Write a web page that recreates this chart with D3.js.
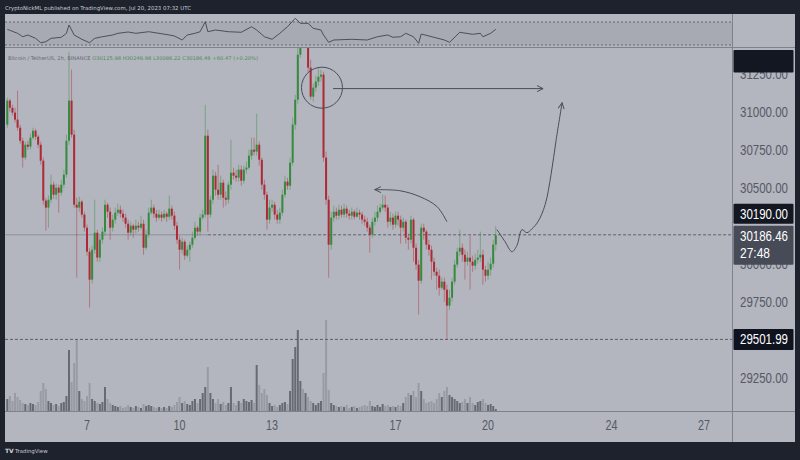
<!DOCTYPE html>
<html><head><meta charset="utf-8">
<script src="https://cdn.jsdelivr.net/npm/d3@7"></script>
<style>html,body{margin:0;padding:0;background:#1e222d;overflow:hidden}</style>
</head><body>
<svg id="c" width="800" height="460"></svg>
<script>
// ---------------- DATA ----------------
const firstOpen = 30915;
const closes = [
31073,31026,30994,30948,30895,30809,30698,30783,30770,30829,
30875,30836,30783,30678,30415,30369,30421,30520,30454,30500,
30467,30520,30586,30809,31073,30849,30388,30369,30408,30323,
30237,30079,29895,30092,30204,30040,30158,30211,30388,30342,
30237,30290,30336,30355,30329,30303,30263,30204,30250,30224,
30250,30237,30263,30105,30191,30336,30369,30329,30303,30323,
30303,30329,30309,30362,30316,30250,30158,30092,30145,30053,
30092,30125,30171,30237,30211,30303,30323,30842,30323,30421,
30579,30487,30454,30533,30434,30421,30520,30599,30579,30566,
30619,30546,30619,30632,30711,30750,30737,30783,30684,30520,
30454,30290,30369,30388,30323,30290,30336,30454,30540,30513,
30665,30915,31079,31375,31605,31474,31540,31290,31099,31158,
31198,31230,31244,30698,30421,30125,30303,30342,30316,30355,
30323,30362,30329,30316,30342,30309,30336,30323,30290,30276,
30237,30191,30276,30303,30342,30369,30388,30369,30276,30303,
30257,30316,30290,30237,30276,30171,30158,30290,30105,29994,
29888,30237,30211,30125,30092,30013,29947,29921,29842,29882,
29829,29724,29776,29882,29994,30079,30105,30059,30013,30040,
30013,29987,30026,30040,30059,29961,29921,29961,30000,30125.98,
30186.46];
const highs = [
31092,31086,31046,31026,31138,30915,30829,30803,30809,30855,
30895,30888,30849,30803,30698,30434,30448,30586,30540,30526,
30520,30553,30619,30849,31395,31277,30882,30434,30441,30421,
30342,30257,30105,30119,30421,30224,30184,30237,30421,30401,
30369,30323,30369,30395,30382,30355,30329,30290,30276,30263,
30290,30276,30316,30290,30224,30369,30421,30388,30355,30355,
30342,30355,30342,30448,30382,30342,30276,30184,30171,30158,
30119,30145,30211,30276,30250,30329,30355,31046,30882,30448,
30619,30605,30651,30579,30553,30474,30540,30816,30632,30619,
30651,30645,30645,30671,30750,30829,30829,30987,30803,30698,
30553,30474,30421,30421,30408,30355,30369,30487,30579,30566,
30698,30961,31112,31441,31704,31671,31592,31573,31342,31184,
31237,31290,31277,31263,30737,30448,30342,30382,30369,30388,
30382,30395,30382,30355,30369,30355,30369,30355,30342,30316,
30303,30257,30303,30342,30382,30395,30454,30448,30388,30342,
30329,30342,30342,30316,30303,30290,30198,30316,30303,30132,
30026,30263,30263,30224,30158,30119,30040,29974,29961,29908,
29908,29862,29829,29908,30026,30105,30224,30132,30092,30079,
30184,30053,30066,30092,30211,30092,29987,30013,30040,30158,
30246.98];
const lows = [
30895,31000,30974,30928,30875,30790,30632,30684,30750,30750,
30816,30816,30763,30651,30388,30217,30237,30401,30428,30421,
30336,30448,30500,30566,30783,30829,30369,29908,30342,30303,
30211,30053,29711,29869,30066,30013,30013,30132,30184,30303,
30158,30211,30263,30316,30303,30276,30237,30158,30184,30171,
30198,30211,30224,30059,30092,30171,30323,30303,30276,30290,
30276,30290,30276,30290,30290,30224,30132,29961,30066,30026,
30040,30013,30105,30158,30184,30184,30290,30303,30211,30303,
30395,30448,30421,30421,30369,30382,30395,30487,30553,30540,
30540,30513,30526,30592,30619,30684,30711,30711,30645,30487,
30421,30224,30263,30342,30290,30263,30263,30316,30434,30487,
30487,30645,30882,31053,31355,31441,31421,31263,31079,31066,
31132,31171,31198,30671,30388,29908,30092,30276,30290,30290,
30303,30303,30303,30290,30290,30290,30303,30290,30263,30250,
30211,30072,30171,30250,30276,30329,30355,30342,30237,30250,
30224,30237,30250,30132,30211,30132,30092,30132,30013,29961,
29665,29869,30158,30092,30053,29895,29921,29829,29790,29829,
29750,29501.99,29697,29750,29862,29974,30053,30013,29895,29987,
29829,29947,29961,30000,30013,29862,29882,29895,29921,29974,
30086.22];
const volumes = [
4800,6000,4000,7200,5600,4400,3200,2800,2400,3200,
2800,2400,3600,8000,11200,8800,4000,3200,2400,2800,
2000,3200,3600,6000,24400,11600,19200,28400,8000,4800,
4000,6000,11200,4800,4000,3200,2800,3600,9600,4800,
3200,2400,2000,1600,2000,1200,1600,2400,1600,1200,
2000,1600,1200,2800,2000,2400,2000,1600,1200,1600,
1200,1600,1200,2000,1600,2400,3600,5600,3200,4000,
2800,2400,4000,4800,3200,4800,7200,9600,17600,7200,
4800,3200,4800,2800,3600,2400,3200,9600,3200,2400,
4000,3200,4800,4000,3600,4400,3200,18400,10400,7200,
8800,6400,3200,2000,2400,1600,2400,3200,3600,2800,
8000,20800,25600,32400,12000,8800,7200,5600,4000,3200,
2400,3200,4000,15200,36400,8400,3200,2400,2000,1600,
2000,1600,2400,1200,1600,2000,1200,1600,2000,2400,
2000,4000,2000,1600,2400,1600,2800,2000,2400,1600,
2000,1600,2400,2000,3200,5600,7200,6400,8000,5600,
11200,8000,4800,3200,3600,4000,3200,4800,7200,5600,
8000,9600,6400,5600,4800,4000,3200,3600,4800,3200,
5600,3200,2400,3600,4000,4800,3200,2400,2800,2000,
800];
// oscillator (read at bar indices)
const oscIdx = [0,4,6,8,11,13,15,17,21,23,24,26,29,32,34,37,41,43,47,50,55,59,63,65,68,70,73,75,77,78,81,86,91,95,97,100,103,106,109,112,114,117,119,122,123,125,127,134,140,144,148,150,153,155,158,160,161,164,170,172,176,181,184,185,188,190];
const oscVal = [57.3,50.3,44.4,47.4,41.6,34,35.7,41.6,43.4,50.3,64.8,47.4,39.9,34,41.6,44.4,47.4,50.3,52.6,50.3,53.1,50.3,47.4,45.7,38.7,47.4,50.3,53.1,70.5,53.1,56.1,53.1,52.1,61.8,56.1,44.4,39.9,50.3,61.8,76.4,67.7,67.7,59,56.1,47.4,34.7,38.7,39.9,38.7,44.4,47.4,43.4,44.4,50.3,44.4,33,49.1,45.7,38.7,34.7,52.1,48.6,50.3,44.4,50.3,57.3];
const oscLevels = [70, 30];
const priceTicks = [31250, 31000, 30750, 30500, 30000, 29750, 29250];
const dayTicks = [7, 10, 13, 17, 20, 24, 27];
const hLevel = 30190.00;
const lowLevel = 29501.99;
const lastPrice = 30186.46;
const countdown = "27:48";
const headerText = "CryptoNickML published on TradingView.com, Jul 20, 2023 07:32 UTC";
const legendName = "Bitcoin / TetherUS, 2h, BINANCE";
const legendVals = "O30125.98  H30246.98  L30086.22  C30186.46  +60.47 (+0.20%)";
// drawings in (bar index, price)
const circlePt = [122.4, 31158];
const hArrow = [[126.7, 31152], [208.4, 31152]];
const curvedArrow = [[171, 30276], [167.2, 30375], [160.5, 30441], [152.7, 30480], [143, 30487]];
const projection = [[190.5, 30224], [193.6, 30145], [196.3, 30079], [198.2, 30119], [200.2, 30224], [202.1, 30204], [204.1, 30230], [206.4, 30276], [209.2, 30388], [211.5, 30586], [213.5, 30816], [215.8, 31059]];
const rayStartIdx = 78.1;

// ---------------- LAYOUT ----------------
const paneL = 5, axisX = 732, paneR = 795, topY = 14, sepY = 47.5, mainTop = 48, mainBottom = 411, timeBottom = 442;
const svg = d3.select("#c");
const t0 = Date.UTC(2023, 6, 4, 10);
const HOUR = 3600e3;
const xScale = d3.scaleUtc().domain([Date.UTC(2023,6,7), Date.UTC(2023,6,27)]).range([87, 704]);
const xi = i => xScale(new Date(t0 + i * 2 * HOUR));
const yScale = d3.scaleLinear().domain([29250, 31000]).range([377.7, 111.7]);
const vScale = d3.scaleLinear().domain([0, 36400]).range([411, 320]);
const rScale = d3.scaleLinear().domain([30, 70]).range([45, 22]);

const bars = d3.range(closes.length).map(i => ({
  i, o: i ? closes[i-1] : firstOpen, h: highs[i], l: lows[i], c: closes[i], v: volumes[i]
}));

const GREEN = "#368a3c", RED = "#ad2a35";
const font = "'Liberation Sans','Arial',sans-serif";
const CHW = 6.0; // per-character advance of the narrow axis font

// backgrounds
svg.append("rect").attr("width", 800).attr("height", 460).attr("fill", "#1e222d");
svg.append("rect").attr("x", paneL).attr("y", topY).attr("width", paneR - paneL).attr("height", timeBottom - topY).attr("fill", "#b3b6bf");
svg.append("rect").attr("x", paneL).attr("y", rScale(70)).attr("width", axisX - paneL).attr("height", rScale(30) - rScale(70)).attr("fill", "#a7aab3");

const defs = svg.append("defs");
defs.append("clipPath").attr("id", "mainclip").append("rect").attr("x", paneL).attr("y", mainTop).attr("width", axisX - paneL).attr("height", mainBottom - mainTop);
defs.append("clipPath").attr("id", "indclip").append("rect").attr("x", paneL).attr("y", topY).attr("width", axisX - paneL).attr("height", sepY - topY);
defs.append("clipPath").attr("id", "axclip").append("rect").attr("x", axisX + 1).attr("y", mainTop).attr("width", paneR - axisX - 1).attr("height", mainBottom - mainTop);
defs.append("marker").attr("id", "ah").attr("viewBox", "0 0 8 8").attr("refX", 7).attr("refY", 4)
  .attr("markerWidth", 8).attr("markerHeight", 8).attr("orient", "auto").attr("markerUnits", "userSpaceOnUse")
  .append("path").attr("d", "M1,1 L7,4 L1,7").attr("fill", "none").attr("stroke", "#4a4e59").attr("stroke-width", 1);

// indicator pane
const ind = svg.append("g").attr("clip-path", "url(#indclip)");
ind.selectAll("line.lvl").data(oscLevels).join("line")
  .attr("x1", paneL).attr("x2", axisX).attr("y1", d => rScale(d)).attr("y2", d => rScale(d))
  .attr("stroke", "#60646e").attr("stroke-width", 1).attr("stroke-dasharray", "2,2");
ind.append("path").datum(oscIdx.map((d, k) => [d, oscVal[k]]))
  .attr("d", d3.line().x(d => xi(d[0])).y(d => rScale(d[1])))
  .attr("fill", "none").attr("stroke", "#4c4f58").attr("stroke-width", 1);

// separators
svg.append("line").attr("x1", paneL).attr("x2", paneR).attr("y1", sepY).attr("y2", sepY).attr("stroke", "#7f828c");
svg.append("line").attr("x1", axisX + 0.5).attr("x2", axisX + 0.5).attr("y1", topY).attr("y2", timeBottom).attr("stroke", "#7f828c");
svg.append("line").attr("x1", paneL).attr("x2", paneR).attr("y1", mainBottom + 0.5).attr("y2", mainBottom + 0.5).attr("stroke", "#7f828c");

// main pane
const main = svg.append("g").attr("clip-path", "url(#mainclip)");
main.selectAll("rect.vol").data(bars).join("rect")
  .attr("x", d => xi(d.i) - 1).attr("width", 2)
  .attr("y", d => vScale(d.v)).attr("height", d => vScale(0) - vScale(d.v))
  .attr("fill", d => d.c >= d.o ? "#676a73" : "#989ba4");

main.append("line").attr("x1", paneL).attr("x2", xi(rayStartIdx)).attr("y1", yScale(hLevel)).attr("y2", yScale(hLevel))
  .attr("stroke", "#8e919a").attr("stroke-width", 1);
main.append("line").attr("x1", xi(rayStartIdx)).attr("x2", axisX).attr("y1", yScale(hLevel)).attr("y2", yScale(hLevel))
  .attr("stroke", "#5c606a").attr("stroke-width", 1).attr("stroke-dasharray", "3,2");
main.append("line").attr("x1", paneL).attr("x2", axisX).attr("y1", yScale(lowLevel)).attr("y2", yScale(lowLevel))
  .attr("stroke", "#5c606a").attr("stroke-width", 1).attr("stroke-dasharray", "3,2");

const cg = main.append("g");
cg.selectAll("line.wick").data(bars).join("line")
  .attr("x1", d => xi(d.i)).attr("x2", d => xi(d.i))
  .attr("y1", d => yScale(d.h)).attr("y2", d => yScale(d.l))
  .attr("stroke", d => d.c >= d.o ? GREEN : RED).attr("stroke-opacity", 0.5).attr("stroke-width", 0.9);
cg.selectAll("rect.body").data(bars).join("rect")
  .attr("x", d => xi(d.i) - 1).attr("width", 2)
  .attr("y", d => yScale(Math.max(d.o, d.c)))
  .attr("height", d => Math.max(1, Math.abs(yScale(d.o) - yScale(d.c))))
  .attr("fill", d => d.c >= d.o ? GREEN : RED);

const dr = main.append("g").attr("fill", "none").attr("stroke", "#4a4e59").attr("stroke-width", 1);
dr.append("circle").attr("cx", xi(circlePt[0])).attr("cy", yScale(circlePt[1])).attr("r", 20.5);
dr.append("path").attr("d", d3.line().x(d => xi(d[0])).y(d => yScale(d[1]))(hArrow)).attr("marker-end", "url(#ah)");
dr.append("path").attr("d", d3.line().curve(d3.curveCatmullRom).x(d => xi(d[0])).y(d => yScale(d[1]))(curvedArrow)).attr("marker-end", "url(#ah)");
dr.append("path").attr("d", d3.line().curve(d3.curveCatmullRom).x(d => xi(d[0])).y(d => yScale(d[1]))(projection)).attr("marker-end", "url(#ah)");

// header + legend
svg.append("text").attr("x", 5).attr("y", 10).attr("font-family", "'DejaVu Sans',sans-serif").attr("font-size", 5.4)
  .attr("fill", "#c9cbd2").text(headerText);
const lg = svg.append("text").attr("x", 8).attr("y", 59.5).attr("font-family", "'DejaVu Sans',sans-serif").attr("font-size", 5.2);
lg.append("tspan").attr("fill", "#656973").text(legendName + "  ");
lg.append("tspan").attr("fill", "#528a58").text(legendVals);

// narrow text helper
function narrowText(sel, str) {
  return sel.attr("font-family", font).attr("font-size", 14)
    .attr("textLength", str.length * CHW).attr("lengthAdjust", "spacingAndGlyphs").text(str);
}

// price axis labels (clipped to the axis strip)
const ax = svg.append("g").attr("clip-path", "url(#axclip)");
priceTicks.forEach(p => {
  narrowText(ax.append("text").attr("x", 740).attr("y", yScale(p)).attr("dy", "0.36em").attr("fill", "#555964"), d3.format(".2f")(p));
});
svg.append("rect").attr("x", 733.5).attr("y", 50).attr("width", 60).attr("height", 22.5).attr("fill", "#131722").attr("rx", 1);
function boxLabel(y, h, fill, lines) {
  svg.append("rect").attr("x", 733.5).attr("y", y).attr("width", 60).attr("height", h).attr("fill", fill).attr("rx", 1);
  lines.forEach((t, k) => {
    narrowText(svg.append("text").attr("x", 740).attr("y", y + 10 + k * 17).attr("dy", "0.36em").attr("fill", "#ffffff"), t);
  });
}
boxLabel(yScale(hLevel) - 31, 20, "#131722", [d3.format(".2f")(hLevel)]);
boxLabel(yScale(lastPrice) - 9.5, 39, "#474b57", [d3.format(".2f")(lastPrice), countdown]);
boxLabel(yScale(lowLevel) - 10.5, 21, "#0f1320", [d3.format(".2f")(lowLevel)]);

// time axis
const tg = svg.append("g").attr("fill", "#555964").attr("text-anchor", "middle");
dayTicks.forEach(d => {
  narrowText(tg.append("text").attr("x", xScale(new Date(Date.UTC(2023, 6, d)))).attr("y", 425).attr("dy", "0.36em"), String(d));
});

// TradingView mark
const tv = svg.append("g").attr("transform", "translate(5,447)");
tv.append("text").attr("x", 0).attr("y", 6).attr("font-family", "'DejaVu Sans',sans-serif").attr("font-weight", "bold").attr("font-size", 6).attr("fill", "#d1d4dc").text("TV");
tv.append("text").attr("x", 10).attr("y", 6).attr("font-family", "'DejaVu Sans',sans-serif").attr("font-size", 5.4).attr("fill", "#c9cbd2").text("TradingView");
</script>
</body></html>
